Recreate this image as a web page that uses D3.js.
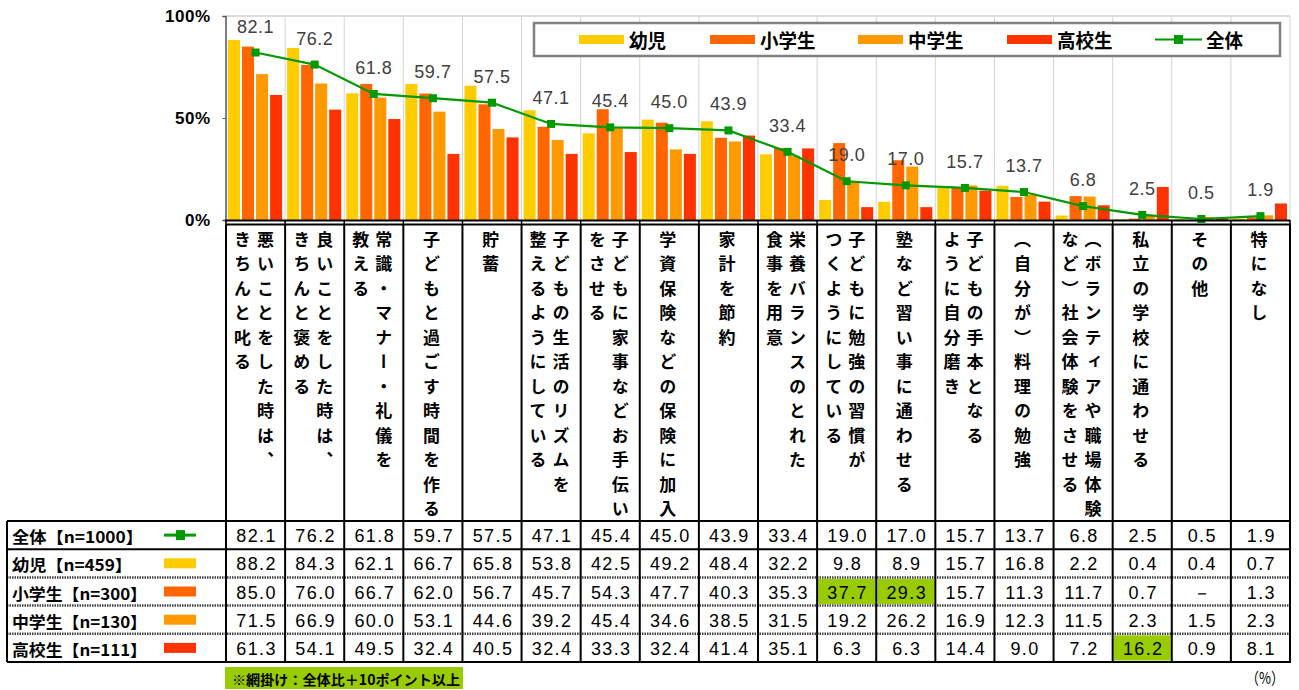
<!DOCTYPE html>
<html lang="ja">
<head>
<meta charset="utf-8">
<script src="https://cdn.jsdelivr.net/npm/d3@7"></script>
<style>
  html, body { margin: 0; padding: 0; background: #fff; }
  svg { display: block; }
  .cjk { font-family: "Noto Sans CJK JP", "Noto Sans", sans-serif; font-weight: bold; }
  .num { font-family: "Liberation Sans", Arial, sans-serif; }
</style>
</head>
<body>
<svg id="chart" width="1299" height="690"></svg>
<script>
// Category labels, each split into the lines of its vertical header cell (right to left)
const categories = [
  ["悪いことをした時は、", "きちんと叱る"],
  ["良いことをした時は、", "きちんと褒める"],
  ["常識・マナー・礼儀を", "教える"],
  ["子どもと過ごす時間を作る"],
  ["貯蓄"],
  ["子どもの生活のリズムを", "整えるようにしている"],
  ["子どもに家事などお手伝い", "をさせる"],
  ["学資保険などの保険に加入"],
  ["家計を節約"],
  ["栄養バランスのとれた", "食事を用意"],
  ["子どもに勉強の習慣が", "つくようにしている"],
  ["塾など習い事に通わせる"],
  ["子どもの手本となる", "ように自分磨き"],
  ["（自分が）料理の勉強"],
  ["（ボランティアや職場体験", "など）社会体験をさせる"],
  ["私立の学校に通わせる"],
  ["その他"],
  ["特になし"]
];

const total      = [82.1, 76.2, 61.8, 59.7, 57.5, 47.1, 45.4, 45.0, 43.9, 33.4, 19.0, 17.0, 15.7, 13.7, 6.8, 2.5, 0.5, 1.9];
const infant     = [88.2, 84.3, 62.1, 66.7, 65.8, 53.8, 42.5, 49.2, 48.4, 32.2, 9.8, 8.9, 15.7, 16.8, 2.2, 0.4, 0.4, 0.7];
const elementary = [85.0, 76.0, 66.7, 62.0, 56.7, 45.7, 54.3, 47.7, 40.3, 35.3, 37.7, 29.3, 15.7, 11.3, 11.7, 0.7, null, 1.3];
const junior     = [71.5, 66.9, 60.0, 53.1, 44.6, 39.2, 45.4, 34.6, 38.5, 31.5, 19.2, 26.2, 16.9, 12.3, 11.5, 2.3, 1.5, 2.3];
const senior     = [61.3, 54.1, 49.5, 32.4, 40.5, 32.4, 33.3, 32.4, 41.4, 35.1, 6.3, 6.3, 14.4, 9.0, 7.2, 16.2, 0.9, 8.1];

const seriesNames  = ["幼児", "小学生", "中学生", "高校生"];
const seriesSizes  = [459, 300, 130, 111];
const totalName    = "全体";
const totalSize    = 1000;
const yTicks       = [0, 50, 100];
const noteText     = "※網掛け：全体比＋10ポイント以上";
const unitText     = "（%）";
const highlightGap = 10;

const barColors  = ["#FFCC00", "#FF6600", "#FF9900", "#FF3300"];
const lineColor  = "#009900";
const highlight  = "#99CC00";

const groups = [infant, elementary, junior, senior];

(function draw() {
const svg = d3.select("#chart");
svg.append("rect").attr("width", 1299).attr("height", 690).attr("fill", "#fff");

const left = 226, right = 1290, plotTop = 16, base = 220;

const x = d3.scaleBand().domain(d3.range(categories.length)).range([left, right]).padding(0);
const xs = d3.scaleBand().domain(d3.range(4)).range([2, x.bandwidth() - 3]).paddingInner(1 / 7).paddingOuter(0);
const y = d3.scaleLinear().domain([0, 100]).range([base, plotTop]);

// Plot frame and gridlines
const plot = svg.append("g");
plot.append("g").selectAll("line").data(d3.range(1, categories.length + 1)).join("line")
  .attr("x1", i => left + i * x.step()).attr("x2", i => left + i * x.step())
  .attr("y1", plotTop).attr("y2", base)
  .attr("stroke", "#d4d4d4").attr("stroke-width", 1);
plot.append("line").attr("x1", left).attr("x2", right).attr("y1", y(100)).attr("y2", y(100))
  .attr("stroke", "#dcdcdc").attr("stroke-width", 2);

// Bars
groups.forEach((vals, s) => {
  plot.append("g").selectAll("rect").data(vals).join("rect")
    .attr("x", (d, i) => x(i) + xs(s))
    .attr("width", xs.bandwidth())
    .attr("y", d => y(d || 0))
    .attr("height", d => base - y(d || 0))
    .attr("fill", barColors[s]);
});

// Y axis
const yAxis = d3.axisLeft(y).tickValues(yTicks).tickSize(3).tickFormat(d => d + "%");
const ya = svg.append("g").attr("transform", `translate(${left - 0.5},0)`).call(yAxis);
ya.select(".domain").attr("stroke", "#555").attr("stroke-width", 1.5);
ya.selectAll(".tick line").attr("stroke", "#555");
ya.selectAll(".tick text")
  .attr("x", -15)
  .attr("class", "num")
  .style("font-size", "17px").style("font-weight", "bold").style("letter-spacing", "0.5px")
  .attr("fill", "#000");

// X axis baseline with ticks at column boundaries
svg.append("line").attr("x1", left - 1).attr("x2", right).attr("y1", base + 0.5).attr("y2", base + 0.5)
  .attr("stroke", "#000").attr("stroke-width", 2);
svg.append("g").selectAll("line").data(d3.range(0, categories.length + 1)).join("line")
  .attr("x1", i => left + i * x.step()).attr("x2", i => left + i * x.step())
  .attr("y1", base).attr("y2", base + 5)
  .attr("stroke", "#000").attr("stroke-width", 1.5);

// Total line with square markers
const cx = i => x(i) + x.bandwidth() / 2;
const line = d3.line().x((d, i) => cx(i)).y(d => y(d));
plot.append("path").datum(total).attr("d", line)
  .attr("fill", "none").attr("stroke", lineColor).attr("stroke-width", 2.2);
plot.append("g").selectAll("rect").data(total).join("rect")
  .attr("x", (d, i) => cx(i) - 4).attr("y", d => y(d) - 4)
  .attr("width", 8).attr("height", 8).attr("fill", lineColor);

// Value labels of the total line
plot.append("g").selectAll("text").data(total).join("text")
  .attr("class", "num")
  .attr("x", (d, i) => cx(i)).attr("y", d => y(d) - 26)
  .attr("text-anchor", "middle").attr("dominant-baseline", "central")
  .style("font-size", "18px").style("letter-spacing", "0.5px")
  .attr("fill", "#404040")
  .text(d => d.toFixed(1));

// Legend
const lg = svg.append("g");
lg.append("rect").attr("x", 534).attr("y", 23).attr("width", 746).attr("height", 33)
  .attr("fill", "#fff").attr("stroke", "#808080").attr("stroke-width", 2.5);
const legendX = [579, 710, 858, 1007];
seriesNames.forEach((name, s) => {
  lg.append("rect").attr("x", legendX[s]).attr("y", 35).attr("width", 45).attr("height", 9).attr("fill", barColors[s]);
  lg.append("text").attr("class", "cjk").attr("x", legendX[s] + 50).attr("y", 39.5)
    .attr("dominant-baseline", "central").style("font-size", "19px")
    .attr("textLength", name.length * 18.5).attr("lengthAdjust", "spacingAndGlyphs")
    .text(name);
});
lg.append("line").attr("x1", 1155).attr("x2", 1202).attr("y1", 39.5).attr("y2", 39.5)
  .attr("stroke", lineColor).attr("stroke-width", 2.2);
lg.append("rect").attr("x", 1174).attr("y", 35).attr("width", 9).attr("height", 9).attr("fill", lineColor);
lg.append("text").attr("class", "cjk").attr("x", 1206).attr("y", 39.5)
  .attr("dominant-baseline", "central").style("font-size", "19px")
  .attr("textLength", totalName.length * 18.5).attr("lengthAdjust", "spacingAndGlyphs")
  .text(totalName);

// Header cells with vertical category labels
const headTop = 224.5, rowTop = 521, rowH = 28.2, tableLeft = 7;
const table = svg.append("g");
table.append("line").attr("x1", left).attr("x2", right + 1).attr("y1", headTop).attr("y2", headTop)
  .attr("stroke", "#000").attr("stroke-width", 2);
categories.forEach((lines, i) => {
  const c = cx(i) - 1.5;
  const n = lines.length;
  lines.forEach((txt, k) => {
    const lx = n === 1 ? c : c + (k === 0 ? 11.5 : -11.5);
    table.append("text").attr("class", "cjk")
      .attr("x", lx).attr("y", 231)
      .style("writing-mode", "vertical-rl")
      .style("font-size", "17px").style("letter-spacing", "7.5px")
      .attr("fill", "#000")
      .text(txt);
  });
});

// Data rows
const rows = [
  { label: `${totalName}【n=${totalSize}】`, vals: total, kind: "line" },
  ...groups.map((vals, s) => ({ label: `${seriesNames[s]}【n=${seriesSizes[s]}】`, vals, kind: "bar", color: barColors[s] }))
];
const labelWidths = [131, 120, 135, 135, 135];

rows.forEach((r, ri) => {
  const ry = rowTop + ri * rowH;
  const my = ry + rowH / 2;
  // highlighted cells: at least 10 points above the total
  if (ri > 0) {
    r.vals.forEach((v, i) => {
      if (v != null && v - total[i] >= highlightGap) {
        table.append("rect").attr("x", x(i) + 1).attr("y", ry + 1.5)
          .attr("width", x.bandwidth() - 2).attr("height", rowH - 3).attr("fill", highlight);
      }
    });
  }
  table.append("text").attr("class", "cjk")
    .attr("x", 12).attr("y", my + 1).attr("dominant-baseline", "central")
    .style("font-size", "16px").attr("textLength", labelWidths[ri]).attr("lengthAdjust", "spacingAndGlyphs")
    .text(r.label);
  if (r.kind === "line") {
    table.append("line").attr("x1", 164).attr("x2", 196).attr("y1", my).attr("y2", my)
      .attr("stroke", lineColor).attr("stroke-width", 3);
    table.append("rect").attr("x", 176).attr("y", my - 5).attr("width", 9).attr("height", 10).attr("fill", lineColor);
  } else {
    table.append("rect").attr("x", 164).attr("y", my - 5).attr("width", 32).attr("height", 10).attr("fill", r.color);
  }
  table.append("g").selectAll("text").data(r.vals).join("text")
    .attr("class", "num")
    .attr("x", (d, i) => cx(i) + 1).attr("y", my + 1)
    .attr("text-anchor", "middle").attr("dominant-baseline", "central")
    .style("font-size", "18px").style("letter-spacing", "1.4px")
    .attr("fill", "#000")
    .text(d => d == null ? "－" : d.toFixed(1));
});

// Table grid
const tableBottom = rowTop + rows.length * rowH;
table.append("line").attr("x1", tableLeft).attr("x2", right + 1).attr("y1", rowTop).attr("y2", rowTop)
  .attr("stroke", "#000").attr("stroke-width", 2);
table.append("line").attr("x1", tableLeft).attr("x2", right + 1).attr("y1", tableBottom).attr("y2", tableBottom)
  .attr("stroke", "#000").attr("stroke-width", 2);
d3.range(1, rows.length).forEach(k => {
  const ly = rowTop + k * rowH;
  table.append("line").attr("x1", tableLeft).attr("x2", right + 1).attr("y1", ly).attr("y2", ly)
    .attr("stroke", k === 1 ? "#000" : "#444").attr("stroke-width", k === 1 ? 2 : 2.5)
    .attr("stroke-dasharray", k === 1 ? null : "1.5,1");
});
table.append("line").attr("x1", tableLeft).attr("x2", tableLeft).attr("y1", rowTop).attr("y2", tableBottom)
  .attr("stroke", "#000").attr("stroke-width", 2);
d3.range(0, categories.length + 1).forEach(i => {
  const lx = left + i * x.step();
  table.append("line").attr("x1", lx).attr("x2", lx).attr("y1", headTop).attr("y2", tableBottom)
    .attr("stroke", "#000").attr("stroke-width", 2);
});

// Footnote and unit
svg.append("rect").attr("x", 225).attr("y", 667).attr("width", 238).attr("height", 22).attr("fill", highlight);
svg.append("text").attr("class", "cjk").attr("x", 232).attr("y", 679)
  .attr("dominant-baseline", "central").style("font-size", "14px")
  .attr("textLength", 228).attr("lengthAdjust", "spacingAndGlyphs")
  .text(noteText);
svg.append("text").attr("class", "cjk").attr("x", 1246).attr("y", 677)
  .attr("dominant-baseline", "central")
  .style("font-size", "16px").style("font-weight", "normal")
  .attr("textLength", 38).attr("lengthAdjust", "spacingAndGlyphs")
  .text(unitText);
})();
</script>
</body>
</html>
